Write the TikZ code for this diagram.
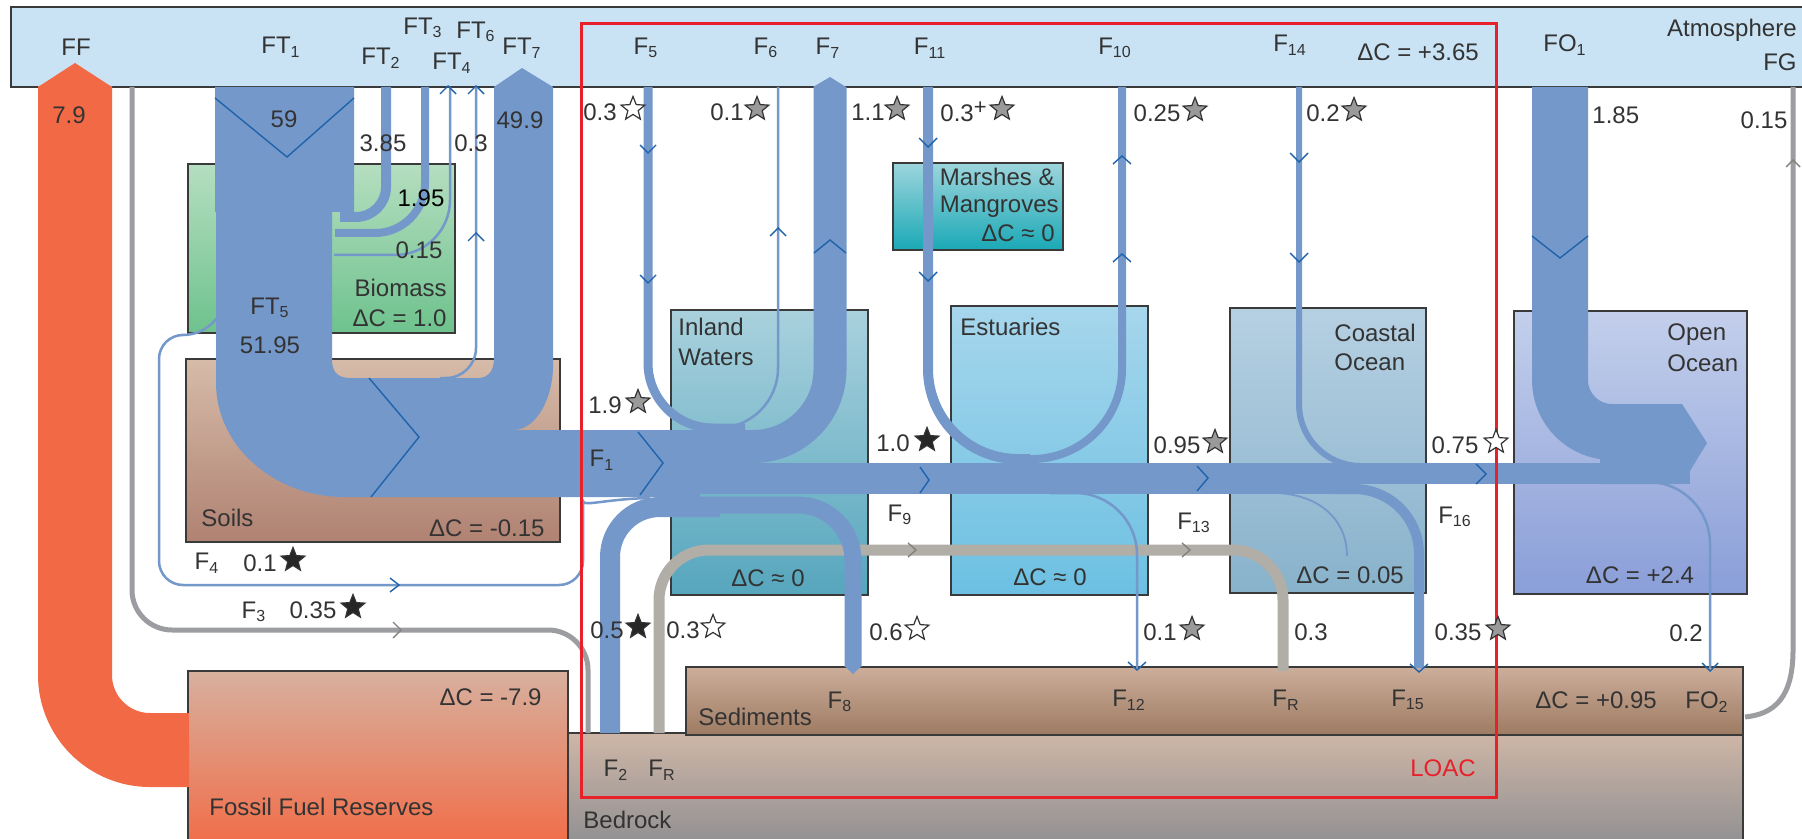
\documentclass[tikz,border=0pt]{standalone}
\usepackage{fontspec}
\setmainfont{Liberation Sans}
\usetikzlibrary{shapes.geometric}
\definecolor{flowblue}{HTML}{7498CA}
\definecolor{chevblue}{HTML}{1F63AA}
\definecolor{atmo}{HTML}{C9E3F5}
\definecolor{boxline}{HTML}{3A3A3A}
\definecolor{txtc}{HTML}{333333}
\definecolor{ffor}{HTML}{F26A45}
\definecolor{grayl}{HTML}{9C9DA1}
\definecolor{frgray}{HTML}{B1AEA8}
\definecolor{frchev}{HTML}{85827C}
\definecolor{redl}{HTML}{E8202A}
\definecolor{stargray}{HTML}{9A9A9A}
\definecolor{stardark}{HTML}{333333}
\definecolor{bioT}{HTML}{B5DEC0}\definecolor{bioB}{HTML}{6EC28D}
\definecolor{soilT}{HTML}{D6BBA9}\definecolor{soilB}{HTML}{B08272}
\definecolor{fosT}{HTML}{D7B09E}\definecolor{fosB}{HTML}{F26B46}
\definecolor{bedT}{HTML}{CEB6A6}\definecolor{bedB}{HTML}{8E8E92}
\definecolor{sedT}{HTML}{CCAE9B}\definecolor{sedB}{HTML}{9E7B62}
\definecolor{inlT}{HTML}{A9D1DD}\definecolor{inlB}{HTML}{56A6BD}
\definecolor{estT}{HTML}{A6D6EC}\definecolor{estB}{HTML}{6CC0E2}
\definecolor{coaT}{HTML}{B6D0E2}\definecolor{coaB}{HTML}{88B2CB}
\definecolor{opeT}{HTML}{C3CFEB}\definecolor{opeB}{HTML}{8A9ED8}
\definecolor{marT}{HTML}{9DD5DC}\definecolor{marB}{HTML}{19A9B6}
\newcommand{\lf}{\fontsize{12}{14}\selectfont}
\newcommand{\sbs}[1]{\textsubscript{#1}}
\begin{document}
\begin{tikzpicture}[x=0.5pt,y=-0.5pt,
  lbl/.style={font=\lf, text=txtc, inner sep=0pt},
  box/.style={draw=boxline, line width=0.8pt},
  chev/.style={draw=chevblue, line width=0.7pt},
  gchev/.style={draw=frchev, line width=0.7pt},
  stw/.style={star, star points=5, star point ratio=2.3, minimum size=12.5pt, inner sep=0pt, draw=stardark, line width=0.6pt, fill=white},
  stg/.style={stw, fill=stargray},
  stb/.style={stw, fill=black!85}]
\useasboundingbox (0,0) rectangle (1802,839);
\clip (0,0) rectangle (1802,839);
\fill[white] (0,0) rectangle (1802,839);
% atmosphere
\fill[atmo] (11,7) rectangle (1810,87);
\draw[box] (1810,7) -- (11,7) -- (11,87) -- (1810,87);
% reservoirs
\draw[box, top color=bioT, bottom color=bioB] (188,164) rectangle (455,333);
\draw[box, top color=soilT, bottom color=soilB] (186,359) rectangle (560,542);
\draw[box, top color=fosT, bottom color=fosB] (188,671) rectangle (568,850);
\draw[box, top color=bedT, bottom color=bedB] (568,733) rectangle (1743,850);
\draw[box, top color=sedT, bottom color=sedB] (686,667) rectangle (1743,735);
\draw[box, top color=inlT, bottom color=inlB] (671,310) rectangle (868,595);
\draw[box, top color=estT, bottom color=estB] (951,306) rectangle (1148,595);
\draw[box, top color=coaT, bottom color=coaB] (1230,308) rectangle (1426,593);
\draw[box, top color=opeT, bottom color=opeB] (1514,311) rectangle (1747,594);
\draw[box, top color=marT, bottom color=marB] (893,163) rectangle (1063,250);
% fossil fuel flow
\draw[draw=ffor, line width=37pt, rounded corners=37.5pt] (75,86) -- (75,750) -- (189,750);
\fill[ffor] (38,87) -- (75,63) -- (112,87) -- cycle;
% gray flows
\draw[grayl, line width=2.5pt, rounded corners=20pt] (132,87) -- (132,630) -- (588,630) -- (588,733);
\draw[grayl, line width=2.5pt] (1793,87) -- (1793,650) .. controls (1793,697) and (1775,714) .. (1745,717);
\draw[frgray, line width=5.5pt, rounded corners=25pt] (659,733) -- (659,550) -- (1283,550) -- (1283,671);
% thin F4
\draw[flowblue, line width=1.25pt] (217,318) .. controls (207,330) and (196,335) .. (182,335) [rounded corners=12pt] -- (159,335) -- (159,585) -- (583,585) -- (583,525) [sharp corners] .. controls (583,507) and (605,499) .. (650,498);
% terrestrial flows
\draw[flowblue, line width=5pt, rounded corners=15pt] (386,87) |- (340,217);
\draw[flowblue, line width=4pt, rounded corners=25pt] (425,87) |- (335,233);
\draw[flowblue, line width=1.25pt, rounded corners=27.5pt] (450,87) |- (334,255);
\draw[flowblue, line width=1.25pt, rounded corners=15pt] (476,87) |- (440,378);
\fill[flowblue] (215,87) -- (354,87) -- (354,212) -- (332,212) -- (332,360) .. controls (332,372) and (338,378) .. (350,378) -- (478,378) .. controls (489,378) and (494,370) .. (494,358) -- (494,87) -- (553,87) -- (553,367) .. controls (553,395) and (538,430) .. (513,430) -- (700,430) -- (700,497) -- (344,497) .. controls (274,497) and (216,446) .. (216,383) -- (216,212) -- (215,212) -- cycle;
\fill[flowblue] (494,87) -- (522,68) -- (553,87) -- cycle;
% aquatic flows
\draw[flowblue, line width=4.5pt, rounded corners=32.5pt] (648,87) |- (745,428);
\draw[flowblue, line width=1.25pt, rounded corners=30pt] (778,87) |- (700,428);
\draw[flowblue, line width=16.5pt, rounded corners=38.5pt] (830,87) |- (700,446.5);
\fill[flowblue] (813,87) -- (830,77) -- (846,87) -- cycle;
\draw[flowblue, line width=10pt, rounded corners=25pt] (610,733) |- (720,507);
\draw[flowblue, line width=8.5pt, rounded corners=27.5pt] (690,505) -| (853,667);
\fill[flowblue] (844.5,666) -- (853,674) -- (861.5,666) -- cycle;
\fill[flowblue] (700,463) rectangle (1360,494);
\fill[flowblue] (1355,463) rectangle (1690,484);
\draw[flowblue, line width=5pt, rounded corners=45pt] (928,87) |- (1030,459);
\draw[flowblue, line width=4pt, rounded corners=45pt] (1122,87) |- (1010,459);
\draw[flowblue, line width=1.25pt, rounded corners=31pt] (1050,493) -| (1137,668);
\draw[flowblue, line width=3pt, rounded corners=31pt] (1299,87) |- (1400,466);
\draw[flowblue, line width=5pt, rounded corners=32.5pt] (1330,489) -| (1419,668);
\draw[flowblue, line width=0.9pt] (1277,493) .. controls (1320,495) and (1347,520) .. (1347,556);
\draw[flowblue, line width=28pt, rounded corners=26pt] (1560,87) |- (1640,432);
\fill[flowblue] (1600,404) -- (1682,404) -- (1707,443) -- (1682,484) -- (1600,484) -- cycle;
\draw[flowblue, line width=1.25pt, rounded corners=31pt] (1630,482) -| (1710,668);
% chevrons
\draw[chev] (215,98) -- (287,157) -- (354,98);
\draw[chev] (440,94) -- (448,86) -- (456,94);
\draw[chev] (468,94) -- (476,86) -- (484,94);
\draw[chev] (468,241) -- (476,233) -- (484,241);
\draw[chev] (640,145) -- (648,153) -- (656,145);
\draw[chev] (640,275) -- (648,283) -- (656,275);
\draw[chev] (770,236) -- (778,228) -- (786,236);
\draw[chev] (814,253) -- (830,240) -- (846,253);
\draw[chev] (919,138) -- (928,147) -- (937,138);
\draw[chev] (919,272) -- (928,281) -- (937,272);
\draw[chev] (1113,164) -- (1122,156) -- (1131,164);
\draw[chev] (1113,262) -- (1122,254) -- (1131,262);
\draw[chev] (1290,153) -- (1299,162) -- (1308,153);
\draw[chev] (1290,253) -- (1299,262) -- (1308,253);
\draw[chev] (1532,236) -- (1560,258) -- (1588,236);
\draw[gchev] (1786,167) -- (1793,160) -- (1800,167);
\draw[chev] (638,432) -- (663,463) -- (640,495);
\draw[chev] (369,378) -- (419,437) -- (371,497);
\draw[chev] (920,467) -- (929,480) -- (920,493);
\draw[chev] (1197,466) -- (1208,478) -- (1197,491);
\draw[chev] (1476,464) -- (1486,474) -- (1476,484);
\draw[chev] (390,578) -- (399,585) -- (390,592);
\draw[gchev] (393,622) -- (401,630) -- (393,638);
\draw[gchev] (908,543) -- (916,550) -- (908,557);
\draw[gchev] (1182,543) -- (1190,550) -- (1182,557);
\draw[chev] (1128,662) -- (1137,670) -- (1146,662);
\draw[chev] (1410,664) -- (1419,672) -- (1428,664);
\draw[chev] (1702,663) -- (1710,671) -- (1718,663);
% LOAC box
\draw[redl, line width=1.5pt] (581,24) rectangle (1496,797);
% labels in atmosphere
\node[lbl] (ff) at (76,47) {FF};
\node[lbl] (ft1) at (281,47) {FT\sbs{1}};
\node[lbl] (ft2) at (381,58) {FT\sbs{2}};
\node[lbl] (ft3) at (423,28) {FT\sbs{3}};
\node[lbl] (ft6) at (476,32) {FT\sbs{6}};
\node[lbl] (ft4) at (452,63) {FT\sbs{4}};
\node[lbl] (ft7) at (522,48) {FT\sbs{7}};
\node[lbl] (f5) at (646,48) {F\sbs{5}};
\node[lbl] (f6) at (766,48) {F\sbs{6}};
\node[lbl] (f7) at (828,48) {F\sbs{7}};
\node[lbl] (f11) at (930,48) {F\sbs{11}};
\node[lbl] (f10) at (1115,48) {F\sbs{10}};
\node[lbl] (f14) at (1290,45) {F\sbs{14}};
\node[lbl] (dcatm) at (1418,52) {ΔC = +3.65};
\node[lbl] (fo1) at (1565,45) {FO\sbs{1}};
\node[lbl, anchor=east] (atm) at (1797,30) {Atmosphere};
\node[lbl, anchor=east] (fg) at (1797,62) {FG};
% flux values
\node[lbl] (v79) at (69,115) {7.9};
\node[lbl] (v59) at (284,119) {59};
\node[lbl] (v385) at (383,143) {3.85};
\node[lbl] (v03a) at (471,143) {0.3};
\node[lbl] (v499) at (520,120) {49.9};
\node[lbl, text=black] (v195) at (421,198) {1.95};
\node[lbl] (v015a) at (419,250) {0.15};
\node[lbl, anchor=east] (bio) at (447,288) {Biomass};
\node[lbl, anchor=east] (dcbio) at (447,318) {ΔC = 1.0};
\node[lbl] (ft5) at (270,308) {FT\sbs{5}};
\node[lbl] (v5195) at (270,345) {51.95};
\node[lbl, anchor=west] (soils) at (201,518) {Soils};
\node[lbl, anchor=east] (dcsoil) at (545,528) {ΔC = -0.15};
\node[lbl] (f4) at (207,563) {F\sbs{4}};
\node[lbl] (v01a) at (260,563) {0.1};
\node[stb] (s01a) at (293,560) {};
\node[lbl] (f3) at (254,612) {F\sbs{3}};
\node[lbl] (v035a) at (313,610) {0.35};
\node[stb] (s035a) at (353,607) {};
\node[lbl] (v03b) at (600,112) {0.3};
\node[stw] (s03b) at (633,109) {};
\node[lbl] (v01b) at (727,112) {0.1};
\node[stg] (s01b) at (757,109) {};
\node[lbl] (v11) at (868,112) {1.1};
\node[stg] (s11) at (897,109) {};
\node[lbl, anchor=west] (v03c) at (940,112) {0.3\raisebox{0.55ex}{\fontsize{11}{11}\selectfont +}};
\node[stg] (s03c) at (1002,109) {};
\node[lbl] (v025) at (1157,113) {0.25};
\node[stg] (s025) at (1195,110) {};
\node[lbl] (v02a) at (1323,113) {0.2};
\node[stg] (s02a) at (1354,110) {};
\node[lbl, anchor=west] (v185) at (1592,115) {1.85};
\node[lbl] (v015b) at (1764,120) {0.15};
\node[lbl, anchor=east] (mar1) at (1055,177) {Marshes \&};
\node[lbl, anchor=east] (mar2) at (1059,207) {Mangroves};
\node[lbl, anchor=east] (mar3) at (1055,233) {ΔC ≈ 0};
\node[lbl, anchor=west] (inl1) at (678,327) {Inland};
\node[lbl, anchor=west] (inl2) at (678,357) {Waters};
\node[lbl, anchor=west] (est) at (960,327) {Estuaries};
\node[lbl, anchor=west] (coa1) at (1334,333) {Coastal};
\node[lbl, anchor=west] (coa2) at (1334,362) {Ocean};
\node[lbl, anchor=west] (ope1) at (1667,335) {Open};
\node[lbl, anchor=west] (ope2) at (1667,363) {Ocean};
\node[lbl] (v19) at (605,405) {1.9};
\node[stg] (s19) at (638,402) {};
\node[lbl] (f1) at (602,460) {F\sbs{1}};
\node[lbl] (v10) at (893,443) {1.0};
\node[stb] (s10) at (927,440) {};
\node[lbl] (v095) at (1177,445) {0.95};
\node[stg] (s095) at (1215,442) {};
\node[lbl] (v075) at (1455,445) {0.75};
\node[stw] (s075) at (1496,442) {};
\node[lbl] (f9) at (900,515) {F\sbs{9}};
\node[lbl] (f13) at (1194,523) {F\sbs{13}};
\node[lbl] (f16) at (1455,517) {F\sbs{16}};
\node[lbl] (dcinl) at (768,578) {ΔC ≈ 0};
\node[lbl] (dcest) at (1050,577) {ΔC ≈ 0};
\node[lbl] (dccoa) at (1350,575) {ΔC = 0.05};
\node[lbl] (dcope) at (1640,575) {ΔC = +2.4};
\node[lbl] (v05) at (607,630) {0.5};
\node[stb] (s05) at (638,627) {};
\node[lbl] (v03d) at (683,630) {0.3};
\node[stw] (s03d) at (713,627) {};
\node[lbl] (v06) at (886,632) {0.6};
\node[stw] (s06) at (917,629) {};
\node[lbl] (v01c) at (1160,632) {0.1};
\node[stg] (s01c) at (1192,629) {};
\node[lbl] (v03e) at (1311,632) {0.3};
\node[lbl] (v035b) at (1458,632) {0.35};
\node[stg] (s035b) at (1498,629) {};
\node[lbl] (v02b) at (1686,633) {0.2};
\node[lbl, anchor=east] (dcfos) at (542,697) {ΔC = -7.9};
\node[lbl, anchor=west] (sed) at (698,717) {Sediments};
\node[lbl] (f8) at (840,702) {F\sbs{8}};
\node[lbl] (f12) at (1129,700) {F\sbs{12}};
\node[lbl] (fr1) at (1286,700) {F\sbs{R}};
\node[lbl] (f15) at (1408,700) {F\sbs{15}};
\node[lbl] (dcsed) at (1596,700) {ΔC = +0.95};
\node[lbl] (fo2) at (1707,702) {FO\sbs{2}};
\node[lbl] (f2) at (616,770) {F\sbs{2}};
\node[lbl] (fr2) at (662,770) {F\sbs{R}};
\node[lbl, text=redl] (loac) at (1443,768) {LOAC};
\node[lbl, anchor=west] (fos) at (209,807) {Fossil Fuel Reserves};
\node[lbl, anchor=west] (bed) at (583,820) {Bedrock};
\end{tikzpicture}
\end{document}
